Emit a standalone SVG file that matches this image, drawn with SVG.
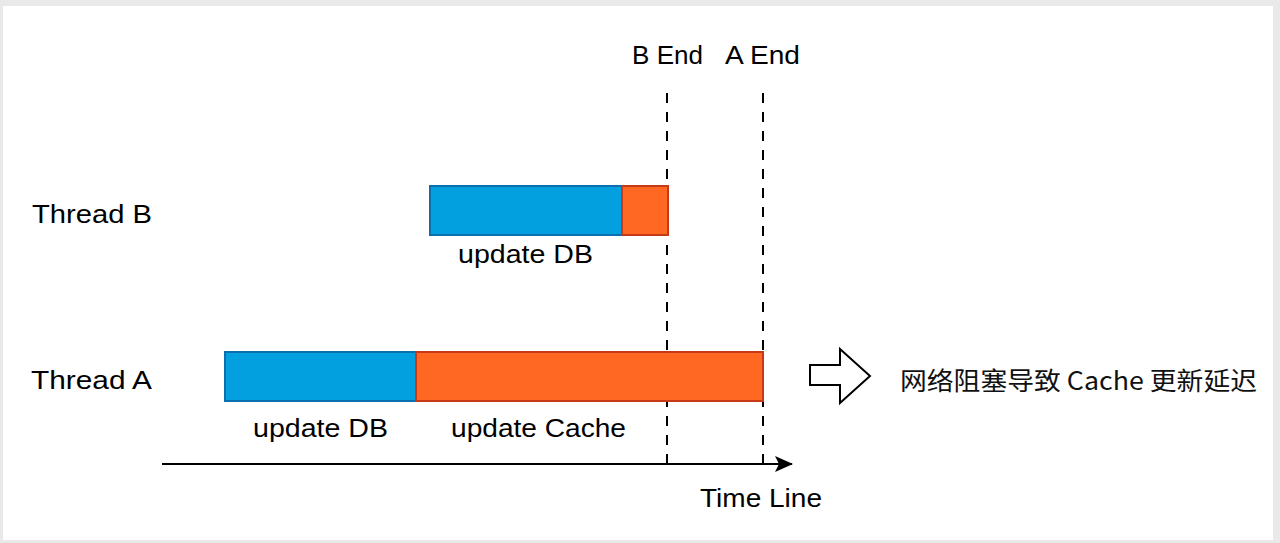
<svg xmlns="http://www.w3.org/2000/svg" width="1280" height="543" viewBox="0 0 1280 543">
  <style>
    .t { font-family: "Comic Sans MS", "Liberation Sans", "Noto Sans CJK SC", sans-serif; font-size: 26px; fill: #000; }
    .cjk { font-family: "Comic Sans MS", "Noto Sans CJK SC", sans-serif; font-size: 25px; fill: #111; }
    .db { fill: #02a0df; stroke: #0b6fae; stroke-width: 2; }
    .cache { fill: #fe6823; stroke: #c73a17; stroke-width: 2; }
    .dash { stroke: #000; stroke-width: 2; stroke-dasharray: 10 9; fill: none; }
    .axis { stroke: #000; stroke-width: 2; fill: none; }
  </style>
  <defs>
    <marker id="arrow" viewBox="0 0 18 16" refX="17" refY="8" markerUnits="userSpaceOnUse" markerWidth="18" markerHeight="16" orient="auto">
      <path d="M0,0 L18,8 L0,16 L4,8 Z" fill="#000"/>
    </marker>
  </defs>
  <rect x="0" y="0" width="1280" height="543" fill="#e9e9e9"/>
  <rect x="3" y="6" width="1270" height="534" fill="#ffffff"/>

  <g id="connectors">
    <line id="timeline" class="axis" x1="162" y1="464" x2="792" y2="464" marker-end="url(#arrow)"/>
    <line id="b-end-line" class="dash" x1="667" y1="93" x2="667" y2="470"/>
    <line id="a-end-line" class="dash" x1="763" y1="93" x2="763" y2="470"/>
  </g>

  <g id="label-b-end"><text class="t" x="632" y="64" textLength="71" lengthAdjust="spacingAndGlyphs">B End</text></g>
  <g id="label-a-end"><text class="t" x="725" y="64" textLength="75" lengthAdjust="spacingAndGlyphs">A End</text></g>

  <g id="thread-b-label"><text class="t" x="32" y="223" textLength="120" lengthAdjust="spacingAndGlyphs">Thread B</text></g>
  <g id="thread-b-db">
    <rect class="db" x="430" y="186" width="192" height="49"/>
    <text class="t" x="458" y="263" textLength="135" lengthAdjust="spacingAndGlyphs">update DB</text>
  </g>
  <g id="thread-b-cache">
    <rect class="cache" x="622" y="186" width="46" height="49"/>
  </g>

  <g id="thread-a-label"><text class="t" x="31" y="389" textLength="121" lengthAdjust="spacingAndGlyphs">Thread A</text></g>
  <g id="thread-a-db">
    <rect class="db" x="225" y="352" width="191" height="49"/>
    <text class="t" x="253" y="437" textLength="135" lengthAdjust="spacingAndGlyphs">update DB</text>
  </g>
  <g id="thread-a-cache">
    <rect class="cache" x="416" y="352" width="347" height="49"/>
    <text class="t" x="451" y="437" textLength="175" lengthAdjust="spacingAndGlyphs">update Cache</text>
  </g>

  <g id="time-line-label"><text class="t" x="700" y="507" textLength="122" lengthAdjust="spacingAndGlyphs">Time Line</text></g>

  <g id="block-arrow">
    <polygon points="810,365 840,365 840,349 870,376 840,403 840,385 810,385" fill="#fff" stroke="#000" stroke-width="2" stroke-linejoin="miter"/>
  </g>
  <g id="note">
    <text class="cjk" x="900" y="390" textLength="357" lengthAdjust="spacingAndGlyphs">网络阻塞导致 Cache 更新延迟</text>
  </g>
</svg>
